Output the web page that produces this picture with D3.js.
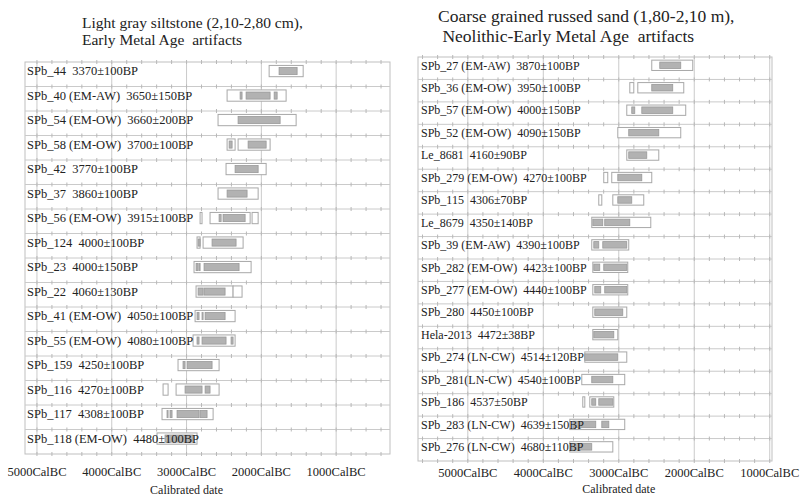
<!DOCTYPE html>
<html>
<head>
<meta charset="utf-8">
<script src="https://cdn.jsdelivr.net/npm/d3@7"></script>
<style>
  body { margin: 0; background: #fff; }
  svg text { font-family: "Liberation Serif", "Times New Roman", serif; fill: #222; white-space: pre; }
</style>
</head>
<body>
<svg id="chart" width="801" height="498"></svg>
<script>
// tick values on the calibrated axis (years cal BC)
const tickValues = [5000, 4000, 3000, 2000, 1000];

// left panel: sample labels, 95.4% ranges (outer) and 68.2% ranges (inner), cal BC
const leftLabels = [
  "SPb_44  3370±100BP", "SPb_40 (EM-AW)  3650±150BP", "SPb_54 (EM-OW)  3660±200BP",
  "SPb_58 (EM-OW)  3700±100BP", "SPb_42  3770±100BP", "SPb_37  3860±100BP",
  "SPb_56 (EM-OW)  3915±100BP", "SPb_124  4000±100BP", "SPb_23  4000±150BP",
  "SPb_22  4060±130BP", "SPb_41 (EM-OW)  4050±100BP", "SPb_55 (EM-OW)  4080±100BP",
  "SPb_159  4250±100BP", "SPb_116  4270±100BP", "SPb_117  4308±100BP",
  "SPb_118 (EM-OW)  4480±100BP"
];
const leftOuter = [
  [[1896, 1441]],
  [[2458, 1669]],
  [[2579, 1535]],
  [[2458, 2351], [2311, 1883]],
  [[2472, 1936]],
  [[2579, 2043]],
  [[2819, 2793], [2686, 2150], [2124, 2043]],
  [[2860, 2819], [2779, 2244]],
  [[2900, 2137]],
  [[2873, 2378], [2378, 2258]],
  [[2886, 2351]],
  [[2913, 2351]],
  [[3114, 2565]],
  [[3314, 3247], [3140, 2565]],
  [[3328, 2645]],
  [[3395, 2860]]
];
const leftInner = [
  [[1763, 1522]],
  [[2284, 2258], [2204, 1883], [1829, 1789]],
  [[2311, 1749]],
  [[2431, 2391], [2177, 1936]],
  [[2351, 2043]],
  [[2458, 2191]],
  [[2565, 2538], [2512, 2217]],
  [[2846, 2819], [2659, 2338]],
  [[2873, 2846], [2833, 2819], [2766, 2298]],
  [[2846, 2779], [2766, 2485]],
  [[2860, 2833], [2793, 2779], [2752, 2485]],
  [[2860, 2833], [2793, 2472], [2405, 2378]],
  [[3047, 3020], [2993, 2659]],
  [[3020, 2793], [2752, 2686]],
  [[3261, 3247], [3221, 3194], [3127, 2833], [2819, 2726]],
  [[3288, 2913]]
];

// right panel
const rightLabels = [
  "SPb_27 (EM-AW)  3870±100BP", "SPb_36 (EM-OW)  3950±100BP", "SPb_57 (EM-OW)  4000±150BP",
  "SPb_52 (EM-OW)  4090±150BP", "Le_8681  4160±90BP", "SPb_279 (EM-OW)  4270±100BP",
  "SPb_115  4306±70BP", "Le_8679  4350±140BP", "SPb_39 (EM-AW)  4390±100BP",
  "SPb_282 (EM-OW)  4423±100BP", "SPb_277 (EM-OW)  4440±100BP", "SPb_280  4450±100BP",
  "Hela-2013  4472±38BP", "SPb_274 (LN-CW)  4514±120BP", "SPb_281(LN-CW)  4540±100BP",
  "SPb_186  4537±50BP", "SPb_283 (LN-CW)  4639±150BP", "SPb_276 (LN-CW)  4680±110BP"
];
const rightOuter = [
  [[2563, 2020]],
  [[2854, 2801], [2748, 2139]],
  [[2894, 2113]],
  [[3013, 2179]],
  [[2894, 2470]],
  [[3199, 3146], [3093, 2563]],
  [[3265, 3225], [3079, 2669]],
  [[3358, 2576]],
  [[3358, 2868]],
  [[3344, 2881]],
  [[3344, 2881]],
  [[3344, 2894]],
  [[3344, 3013]],
  [[3450, 2894]],
  [[3490, 2921]],
  [[3477, 3450], [3384, 3066]],
  [[3649, 2921]],
  [[3649, 3079]]
];
const rightInner = [
  [[2457, 2179]],
  [[2563, 2285]],
  [[2828, 2788], [2695, 2285]],
  [[2868, 2470]],
  [[2868, 2629]],
  [[3013, 2695]],
  [[3013, 2828]],
  [[3344, 3212], [3186, 2854]],
  [[3331, 3265], [3212, 2894]],
  [[3331, 3252], [3199, 2894]],
  [[3318, 3239], [3186, 2894]],
  [[3318, 2947]],
  [[3331, 3066]],
  [[3450, 3013]],
  [[3358, 3079]],
  [[3358, 3305], [3265, 3079]],
  [[3609, 3305], [3225, 3132]],
  [[3622, 3358]]
];

const svg = d3.select("#chart");

function drawPanel(cfg) {
  const x = d3.scaleLinear().domain(cfg.domain).range([cfg.left, cfg.right]);
  const y = d3.scaleBand().domain(cfg.labels).range([cfg.top, cfg.bottom]).padding(0);
  const bw = y.bandwidth();
  const g = svg.append("g");
  const gridColor = "#cacaca";

  // title
  g.append("text")
    .attr("x", cfg.titleX).attr("y", cfg.titleY)
    .style("font-size", cfg.titleSize + "px")
    .selectAll("tspan")
    .data(cfg.title)
    .join("tspan")
    .attr("x", cfg.titleX)
    .attr("dy", (d, i) => i === 0 ? 0 : cfg.titleSize * 1.12)
    .text(d => d);

  // frame
  g.append("rect")
    .attr("x", cfg.left).attr("y", cfg.top)
    .attr("width", cfg.right - cfg.left).attr("height", cfg.bottom - cfg.top)
    .attr("fill", "none").attr("stroke", "#bfbfbf");

  // vertical gridlines at the labelled ticks
  g.selectAll(".vgrid")
    .data(tickValues)
    .join("line")
    .attr("x1", d => x(d)).attr("x2", d => x(d))
    .attr("y1", cfg.top).attr("y2", cfg.bottom)
    .attr("stroke", gridColor);

  // row separators plus top/bottom edge
  const hLines = cfg.labels.map(l => y(l)).concat([cfg.bottom]);
  g.selectAll(".hgrid")
    .data(hLines.slice(1, -1))
    .join("line")
    .attr("x1", cfg.left).attr("x2", cfg.right)
    .attr("y1", d => d).attr("y2", d => d)
    .attr("stroke", gridColor);

  // small ticks every 200 years along each horizontal line
  const minor = d3.range(Math.ceil(cfg.domain[1] / 200) * 200, cfg.domain[0], 200);
  hLines.forEach(yy => {
    g.selectAll(null)
      .data(minor)
      .join("line")
      .attr("x1", d => x(d)).attr("x2", d => x(d))
      .attr("y1", yy - 2).attr("y2", yy + 2)
      .attr("stroke", "#b8b8b8");
  });

  // boxes
  cfg.labels.forEach((lab, i) => {
    const cy = y(lab) + bw * 0.37;
    const oh = bw * 0.46, ih = bw * 0.29;
    g.selectAll(null)
      .data(cfg.outer[i])
      .join("rect")
      .attr("x", d => x(d[0])).attr("width", d => x(d[1]) - x(d[0]))
      .attr("y", cy - oh / 2).attr("height", oh)
      .attr("fill", "#fff").attr("stroke", "#a8a8a8").attr("stroke-width", 1);
    g.selectAll(null)
      .data(cfg.inner[i])
      .join("rect")
      .attr("x", d => x(d[0])).attr("width", d => x(d[1]) - x(d[0]))
      .attr("y", cy - ih / 2).attr("height", ih)
      .attr("fill", "#b2b2b2").attr("stroke", "#999").attr("stroke-width", 0.8);
  });

  // row labels
  g.selectAll(".lab")
    .data(cfg.labels)
    .join("text")
    .attr("x", cfg.left + cfg.labelDx)
    .attr("y", d => y(d) + bw * 0.37)
    .attr("dy", "0.35em")
    .style("font-size", cfg.labelSize + "px")
    .text(d => d);

  // axis tick labels
  g.selectAll(".tick")
    .data(tickValues)
    .join("text")
    .attr("x", d => x(d))
    .attr("y", cfg.tickY)
    .attr("dy", "0.35em")
    .attr("text-anchor", "middle")
    .style("font-size", "12.5px")
    .text(d => d + "CalBC");

  g.append("text")
    .attr("x", x(3000))
    .attr("y", cfg.axisTitleY)
    .attr("dy", "0.35em")
    .attr("text-anchor", "middle")
    .style("font-size", "12px")
    .text("Calibrated date");
}

drawPanel({
  labels: leftLabels, outer: leftOuter, inner: leftInner,
  domain: [5160, 280], left: 25, right: 390, top: 62, bottom: 454,
  title: ["Light gray siltstone (2,10-2,80 cm),", "Early Metal Age  artifacts"],
  titleX: 82, titleY: 28, titleSize: 15.5,
  labelDx: 2, labelSize: 12.5, tickY: 472, axisTitleY: 490
});

drawPanel({
  labels: rightLabels, outer: rightOuter, inner: rightInner,
  domain: [5660, 970], left: 418, right: 772, top: 57, bottom: 461,
  title: ["Coarse grained russed sand (1,80-2,10 m),", " Neolithic-Early Metal Age  artifacts"],
  titleX: 438, titleY: 22, titleSize: 17.5,
  labelDx: 3, labelSize: 12, tickY: 473, axisTitleY: 489
});
</script>
</body>
</html>
